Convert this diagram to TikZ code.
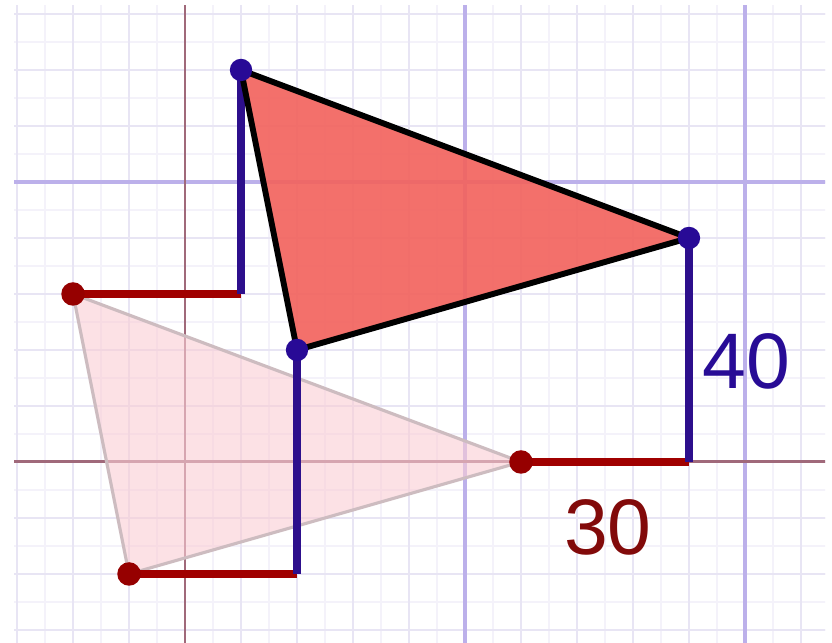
\documentclass[tikz,border=0pt]{standalone}
\usepackage{fontspec}
\setmainfont{Liberation Sans}
\begin{document}
\begin{tikzpicture}[x=0.1cm,y=0.1cm,
  gridfine/.style={draw={rgb,255:red,244;green,242;blue,250},line width=0.8pt},
  gridmid/.style={draw={rgb,255:red,232;green,229;blue,244},line width=1pt},
  gridmajor/.style={draw={rgb,255:red,188;green,176;blue,234},line width=1.6pt},
  axisline/.style={draw={rgb,255:red,160;green,105;blue,122},line width=1.5pt},
  redseg/.style={draw={rgb,255:red,160;green,0;blue,0},line width=3.8pt},
  blueseg/.style={draw={rgb,255:red,45;green,15;blue,140},line width=3.8pt},
  redpt/.style={circle,fill={rgb,255:red,150;green,0;blue,0},minimum size=0.42cm,inner sep=0pt},
  bluept/.style={circle,fill={rgb,255:red,40;green,10;blue,150},minimum size=0.4cm,inner sep=0pt},
  lbl/.style={font=\fontsize{40}{40}\selectfont,inner sep=0pt}]
\useasboundingbox (-33.04,-32.32) rectangle (115.54,82.5);
\fill[white] (-33.04,-32.32) rectangle (115.54,82.5);
\begin{scope}
\clip (-30.5,-32.32) rectangle (114.3,81.6);
\foreach \i in {-30,-25,...,115} \draw[gridfine] (\i,-40) -- (\i,90);
\foreach \j in {-30,-25,...,85} \draw[gridfine] (-40,\j) -- (120,\j);
\foreach \i in {-30,-20,...,110} \draw[gridmid] (\i,-40) -- (\i,90);
\foreach \j in {-30,-20,...,80} \draw[gridmid] (-40,\j) -- (120,\j);
\foreach \i in {50,100} \draw[gridmajor] (\i,-40) -- (\i,90);
\draw[gridmajor] (-40,50) -- (120,50);
\draw[axisline] (0,-40) -- (0,90);
\draw[axisline] (-40,0) -- (120,0);
\end{scope}
% original triangle
\coordinate (A) at (-20,30);
\coordinate (B) at (-10,-20);
\coordinate (C) at (60,0);
% translated triangle
\coordinate (A2) at (10,70);
\coordinate (B2) at (20,20);
\coordinate (C2) at (90,40);
% corners of translation paths
\coordinate (PA) at (10,30);
\coordinate (PB) at (20,-20);
\coordinate (PC) at (90,0);
\filldraw[fill={rgb,255:red,250;green,205;blue,212},fill opacity=0.6,draw={rgb,255:red,205;green,188;blue,192},line width=1.6pt,line join=round] (A) -- (B) -- (C) -- cycle;
\draw[redseg] (A) -- (PA);
\draw[redseg] (B) -- (PB);
\draw[redseg] (C) -- (PC);
\draw[blueseg] (PA) -- (A2);
\draw[blueseg] (PB) -- (B2);
\draw[blueseg] (PC) -- (C2);
\filldraw[fill={rgb,255:red,242;green,100;blue,95},fill opacity=0.92,draw=black,line width=3pt,line join=round] (A2) -- (B2) -- (C2) -- cycle;
\node[redpt] (pA) at (A) {};
\node[redpt] (pB) at (B) {};
\node[redpt] (pC) at (C) {};
\node[bluept] (pA2) at (A2) {};
\node[bluept] (pB2) at (B2) {};
\node[bluept] (pC2) at (C2) {};
\node[lbl,text={rgb,255:red,130;green,10;blue,10}] (l30) at (75.5,-11.6) {30};
\node[lbl,text={rgb,255:red,40;green,12;blue,150}] (l40) at (100.2,17.9) {40};
\end{tikzpicture}
\end{document}
